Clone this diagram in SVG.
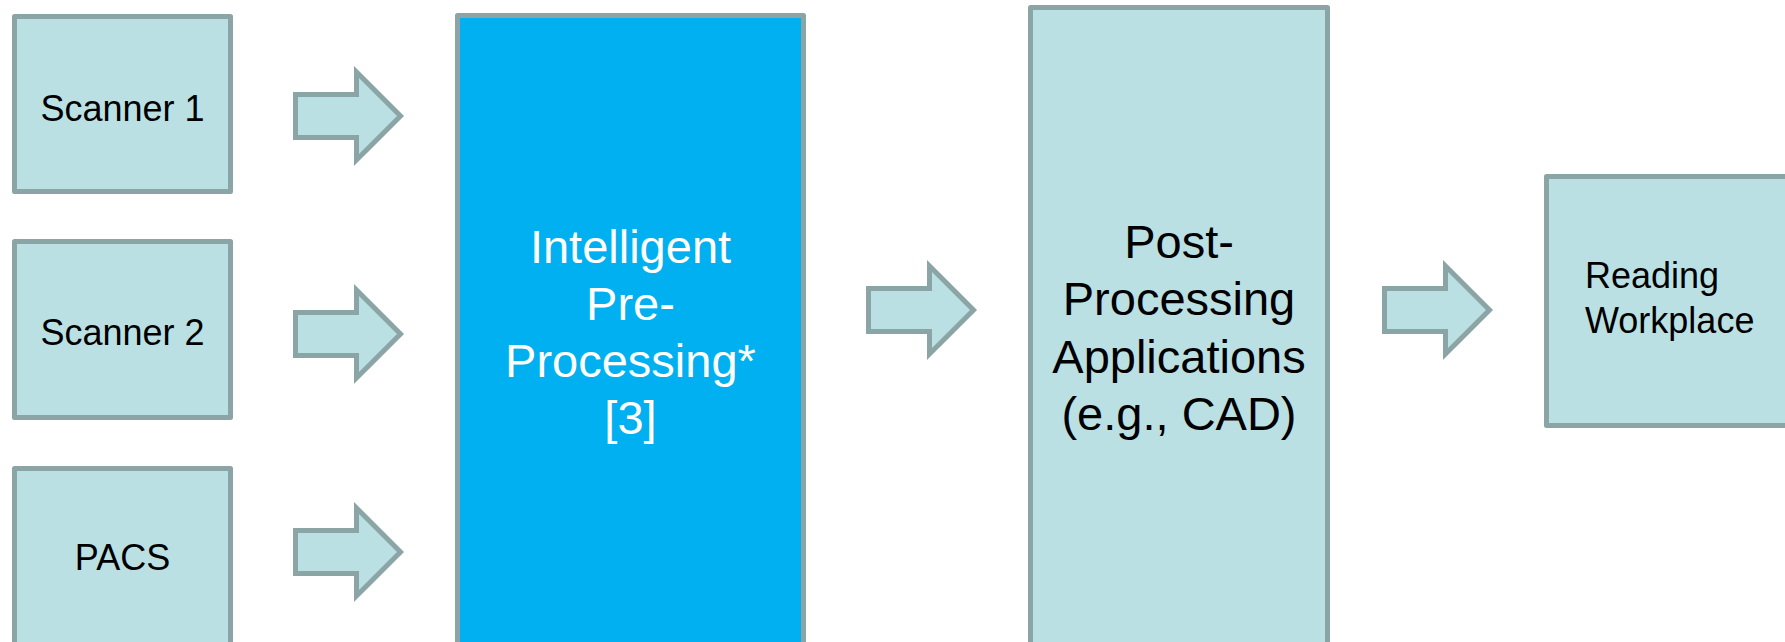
<svg xmlns="http://www.w3.org/2000/svg" width="1785" height="642" viewBox="0 0 1785 642">
  <style>
    .box { fill: #BAE0E3; stroke: #8BA5A7; stroke-width: 5; stroke-linejoin: round; }
    .main { fill: #00B0F0; stroke: #8BA5A7; stroke-width: 5; stroke-linejoin: round; }
    .arrow { fill: #BAE0E3; stroke: #8BA5A7; stroke-width: 5; stroke-linejoin: miter; }
    .lbl { font-family: "Liberation Sans", Arial, sans-serif; font-size: 36px; fill: #000000; text-anchor: middle; }
    .big { font-family: "Liberation Sans", Arial, sans-serif; font-size: 47px; text-anchor: middle; }
    .white { fill: #FFFFFF; }
    .black { fill: #000000; }
  </style>
  <defs>
    <path id="arr" d="M2.5,28.5 H63.5 V6 L107.5,50 L63.5,94 V71.5 H2.5 Z"/>
  </defs>
  <rect width="1785" height="642" fill="#FFFFFF"/>

  <g id="connectors">
    <use href="#arr" class="arrow" x="293" y="66"/>
    <use href="#arr" class="arrow" x="293" y="284"/>
    <use href="#arr" class="arrow" x="293" y="502"/>
    <use href="#arr" class="arrow" x="866" y="260"/>
    <use href="#arr" class="arrow" x="1382" y="260"/>
  </g>

  <g id="scanner1">
    <rect class="box" x="14.5" y="16.5" width="216" height="175"/>
    <text class="lbl" x="122.5" y="121">Scanner 1</text>
  </g>
  <g id="scanner2">
    <rect class="box" x="14.5" y="241.5" width="216" height="176"/>
    <text class="lbl" x="122.5" y="345">Scanner 2</text>
  </g>
  <g id="pacs">
    <rect class="box" x="14.5" y="468.5" width="216" height="200"/>
    <text class="lbl" x="122.5" y="570">PACS</text>
  </g>
  <g id="preprocessing">
    <rect class="main" x="457.5" y="15.5" width="346" height="700"/>
    <text class="big white" x="630.5" y="263">Intelligent</text>
    <text class="big white" x="630.5" y="320">Pre-</text>
    <text class="big white" x="630.5" y="377">Processing*</text>
    <text class="big white" x="630.5" y="434">[3]</text>
  </g>
  <g id="postprocessing">
    <rect class="box" x="1030.5" y="7.5" width="297" height="700"/>
    <text class="big black" x="1179" y="257.5">Post-</text>
    <text class="big black" x="1179" y="315">Processing</text>
    <text class="big black" x="1179" y="372.5">Applications</text>
    <text class="big black" x="1179" y="430">(e.g., CAD)</text>
  </g>
  <g id="reading">
    <rect class="box" x="1546.5" y="176.5" width="300" height="249"/>
    <text class="lbl" x="1585" y="288" style="text-anchor:start">Reading</text>
    <text class="lbl" x="1585" y="333" style="text-anchor:start">Workplace</text>
  </g>
</svg>
